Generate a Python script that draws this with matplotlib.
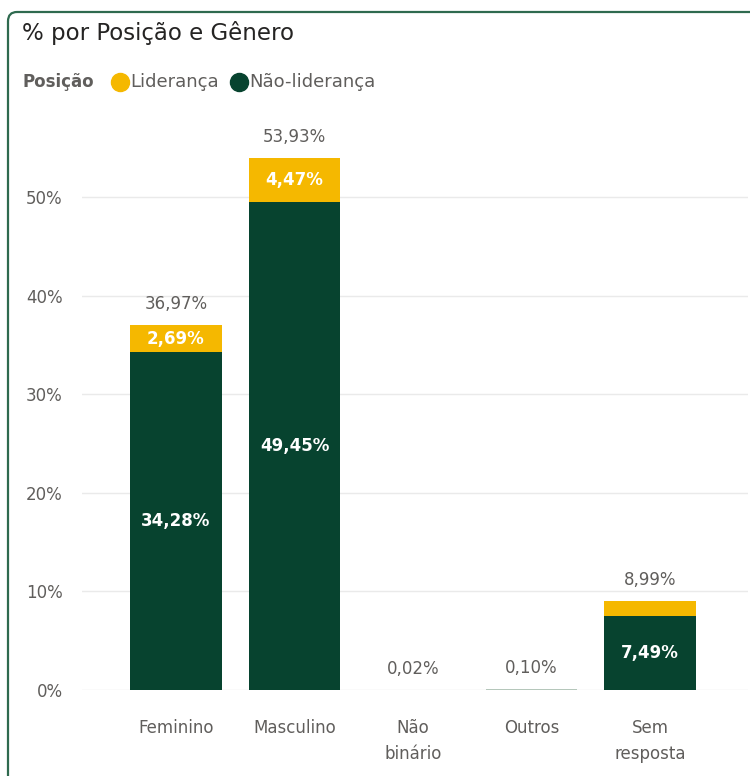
import numpy as np
import matplotlib
matplotlib.use('Agg')
import matplotlib.pyplot as plt
from matplotlib.patches import FancyBboxPatch
from matplotlib.lines import Line2D

# data
generos = ['Feminino', 'Masculino', 'Não\nbinário', 'Outros', 'Sem\nresposta']
nao_lideranca = [34.28, 49.45, 0.02, 0.10, 7.49]
lideranca = [2.69, 4.47, 0.0, 0.0, 1.50]
totais = [36.97, 53.93, 0.02, 0.10, 8.99]
yticks = [0, 10, 20, 30, 40, 50]

amarelo = '#F5B800'
verde = '#07432F'
cinza = '#605E5C'
fonte = 'DejaVu Sans'

W, H = 750, 776
fig = plt.figure(figsize=(W / 100, H / 100), dpi=100)

# card border (runs off the right and bottom edges like the screenshot)
card = FancyBboxPatch((8 / W, -20 / H), 780 / W, 784 / H,
                      boxstyle='round,pad=0,rounding_size=0.012',
                      transform=fig.transFigure, fill=False,
                      edgecolor='#2F6A4F', lw=1.6, clip_on=False)
fig.patches.append(card)

ax = fig.add_axes([82 / W, 86 / H, 666 / W, (690 - 120) / H])
x = np.arange(len(generos))
larg = 0.776

# very thin bars look washed out in the original
cores_nl = [verde if v > 1 else '#B5C7BB' for v in nao_lideranca]
ax.bar(x, nao_lideranca, larg, color=cores_nl, zorder=3)
ax.bar(x, lideranca, larg, bottom=nao_lideranca, color=amarelo, zorder=3)

def fmt(v):
    return ('%.2f%%' % v).replace('.', ',')

for i in range(len(generos)):
    # inner labels
    if nao_lideranca[i] > 3:
        ax.text(x[i], nao_lideranca[i] / 2, fmt(nao_lideranca[i]),
                ha='center', va='center', color='white', fontsize=12,
                fontweight='bold', family=fonte, zorder=4)
    if lideranca[i] > 2:
        ax.text(x[i], nao_lideranca[i] + lideranca[i] / 2, fmt(lideranca[i]),
                ha='center', va='center', color='white', fontsize=12,
                fontweight='bold', family=fonte, zorder=4)
    # totals
    ax.annotate(fmt(totais[i]), (x[i], totais[i]),
                xytext=(0, 12), textcoords='offset pixels', ha='center', va='bottom',
                color=cinza, fontsize=12, family=fonte)

ax.set_xlim(-0.793, 4.827)
ax.set_ylim(0, 57.8)
ax.set_yticks(yticks)
ax.set_yticklabels(['%d%%' % t for t in yticks])
ax.set_xticks(x)
ax.set_xticklabels(generos)
ax.grid(axis='y', color='#EAEAEA', lw=1, zorder=0)
for s in ax.spines.values():
    s.set_visible(False)
ax.tick_params(axis='both', length=0, colors=cinza, labelsize=12)
ax.tick_params(axis='y', pad=14)
ax.tick_params(axis='x', pad=21)
for lab in ax.get_xticklabels() + ax.get_yticklabels():
    lab.set_family(fonte)
    lab.set_linespacing(1.55)

# title and legend
fig.text(22 / W, 1 - 33 / H, '% por Posição e Gênero', ha='left', va='center',
         fontsize=16.5, color='#252423', family=fonte)
fig.text(22 / W, 1 - 82 / H, 'Posição', ha='left', va='center',
         fontsize=12, fontweight='bold', color=cinza, family=fonte)
for cx, cor, nome in [(120, amarelo, 'Liderança'), (239, verde, 'Não-liderança')]:
    fig.add_artist(Line2D([cx / W], [1 - 82 / H], marker='o', markersize=13,
                          color=cor, transform=fig.transFigure))
    fig.text((cx + 10) / W, 1 - 82 / H, nome, ha='left', va='center',
             fontsize=13, color=cinza, family=fonte)

fig.savefig('out.png', dpi=100)
